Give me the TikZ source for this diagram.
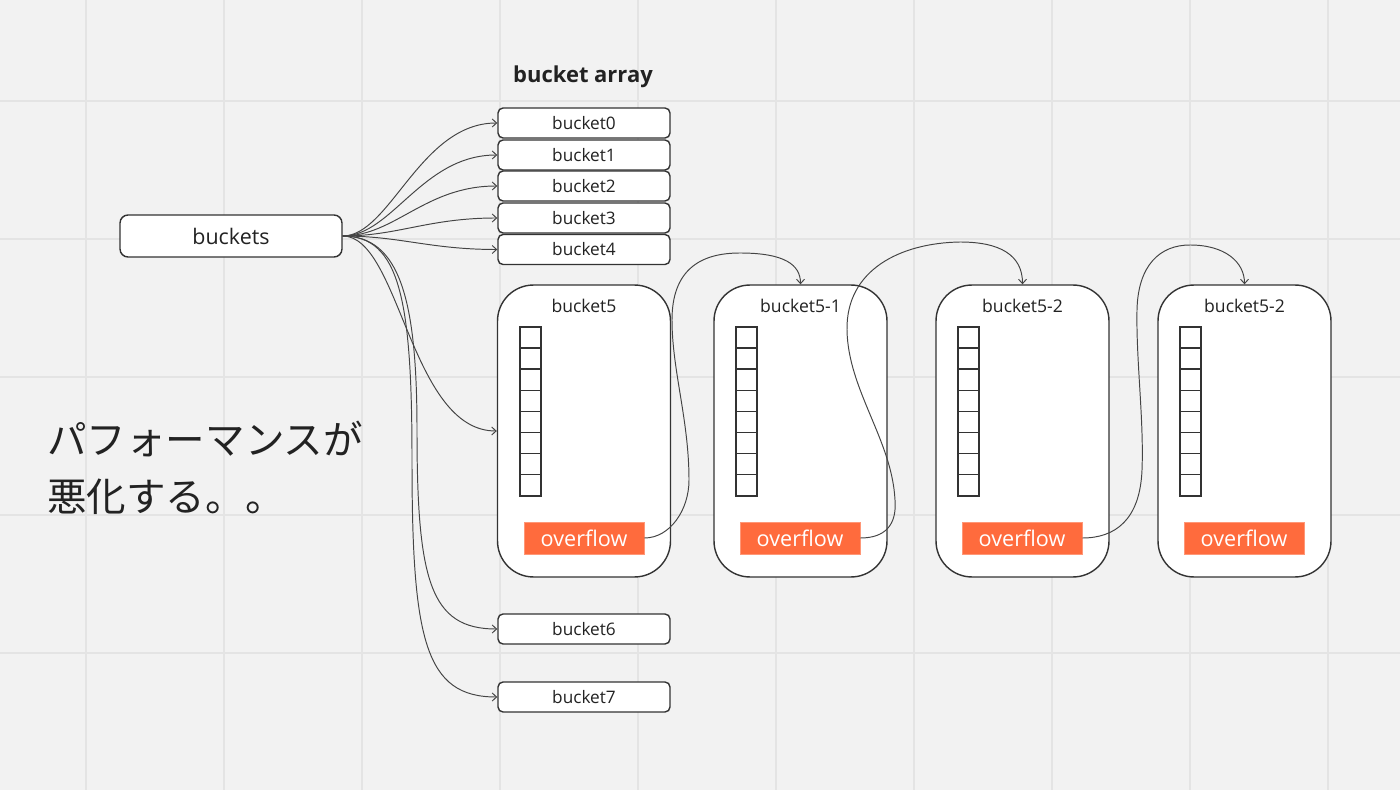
\documentclass[tikz,border=0pt]{standalone}
\usepackage{fontspec}
\setmainfont{Open Sans}
\newfontfamily\jpfont{Noto Sans CJK JP}
\usetikzlibrary{arrows.meta}
\definecolor{bg}{HTML}{F2F2F2}
\definecolor{gridc}{HTML}{E4E4E4}
\definecolor{ink}{HTML}{222222}
\definecolor{edgec}{HTML}{333333}
\definecolor{ovf}{HTML}{FF6B3D}
\definecolor{wire}{HTML}{444444}
\begin{document}
\begin{tikzpicture}[x=0.02cm,y=-0.02cm,
  smallbox/.style={draw=edgec,line width=0.8pt,fill=white,rounded corners=0.1cm,minimum width=3.44cm,minimum height=0.6cm,inner sep=0pt,font=\fontsize{9.8}{11}\selectfont,text=ink},
  mainbox/.style={draw=edgec,line width=0.8pt,fill=white,rounded corners=0.16cm,minimum width=4.44cm,minimum height=0.84cm,inner sep=0pt,font=\fontsize{12.2}{14}\selectfont,text=ink},
  bigbox/.style={draw=edgec,line width=0.8pt,fill=white,rounded corners=0.72cm,minimum width=3.46cm,minimum height=5.84cm,inner sep=0pt},
  boxlabel/.style={font=\fontsize{10}{11}\selectfont,text=ink,inner sep=0pt},
  ovbox/.style={fill=ovf,draw=ovf!70!white,line width=0.4pt,minimum width=2.4cm,minimum height=0.64cm,inner sep=0pt,text=white,font=\fontsize{12.3}{14}\selectfont},
  cell/.style={draw=edgec,line width=0.9pt,fill=white},
  wirec/.style={draw=wire,line width=0.55pt,-{Straight Barb[length=2.5pt,width=4.5pt]}},
  jptext/.style={font=\jpfont\fontsize{22.5}{28}\selectfont,text=ink,anchor=west,inner sep=0pt},
  gridline/.style={draw=gridc,line width=1.1pt}
]
\fill[bg] (0,0) rectangle (1400,790);
\useasboundingbox (0,0) rectangle (1400,790);
\foreach \x in {86,224,...,1328} \draw[gridline] (\x,0) -- (\x,790);
\foreach \y in {101,239,...,653} \draw[gridline] (0,\y) -- (1400,\y);

% title
\node[font=\bfseries\fontsize{12.5}{14}\selectfont,text=ink] (title) at (583,77) {bucket array};

% main node
\node[mainbox] (buckets) at (231,236) {buckets};

% small buckets
\node[smallbox] (b0) at (584,123) {bucket0};
\node[smallbox] (b1) at (584,155) {bucket1};
\node[smallbox] (b2) at (584,186) {bucket2};
\node[smallbox] (b3) at (584,218) {bucket3};
\node[smallbox] (b4) at (584,249.5) {bucket4};
\node[smallbox] (b6) at (584,629) {bucket6};
\node[smallbox] (b7) at (584,697) {bucket7};

% big buckets
\node[bigbox] (b5) at (584,431) {};
\node[bigbox] (b51) at (800.5,431) {};
\node[bigbox] (b52) at (1022.5,431) {};
\node[bigbox] (b53) at (1244.5,431) {};
\node[boxlabel] (l5) at (584,306) {bucket5};
\node[boxlabel] (l51) at (800.5,306) {bucket5-1};
\node[boxlabel] (l52) at (1022.5,306) {bucket5-2};
\node[boxlabel] (l53) at (1244.5,306) {bucket5-2};

% cells
\foreach \L in {498,714,936,1158} {
  \foreach \k in {0,...,7} {
    \draw[cell] (\L+22,327+\k*21.1) rectangle (\L+43,327+\k*21.1+21.1);
  }
}

% overflow
\node[ovbox] (o5) at (584,538) {overflow};
\node[ovbox] (o51) at (800,538) {overflow};
\node[ovbox] (o52) at (1022,538) {overflow};
\node[ovbox] (o53) at (1244,538) {overflow};

% japanese text
\node[jptext] (jp1) at (47,439) {パフォーマンスが};
\node[jptext] (jp2) at (47,497) {悪化する。。};

% fan connectors
\draw[wirec] (buckets.east) .. controls (390,236) and (420,123) .. (b0.west);
\draw[wirec] (buckets.east) .. controls (392,236) and (422,155) .. (b1.west);
\draw[wirec] (buckets.east) .. controls (395,236) and (425,186) .. (b2.west);
\draw[wirec] (buckets.east) .. controls (398,236) and (428,218) .. (b3.west);
\draw[wirec] (buckets.east) .. controls (400,236) and (430,249.5) .. (b4.west);
\draw[wirec] (buckets.east) .. controls (400,236) and (410,431) .. (b5.west);
\draw[wirec] (buckets.east) .. controls (400,236) and (417,300) .. (417,430) .. controls (417,580) and (430,629) .. (b6.west);
\draw[wirec] (buckets.east) .. controls (400,236) and (412,300) .. (412,460) .. controls (412,640) and (425,697) .. (b7.west);

% overflow chains
\draw[wirec] (o5.east) .. controls (670,538) and (689,510) .. (689,480)
  .. controls (689,420) and (672,370) .. (672,320)
  .. controls (672,270) and (700,253) .. (740,253)
  .. controls (785,253) and (800.5,265) .. (b51.north);
\draw[wirec] (o51.east) .. controls (885,538) and (897,525) .. (895,500)
  .. controls (892,440) and (848,390) .. (847,330)
  .. controls (846,270) and (900,243) .. (960,242)
  .. controls (1000,242) and (1022.5,255) .. (b52.north);
\draw[wirec] (o52.east) .. controls (1115,538) and (1140,520) .. (1142,470)
  .. controls (1144,420) and (1136,360) .. (1137,310)
  .. controls (1138,265) and (1160,245) .. (1190,245)
  .. controls (1225,245) and (1244.5,262) .. (b53.north);
\end{tikzpicture}
\end{document}
